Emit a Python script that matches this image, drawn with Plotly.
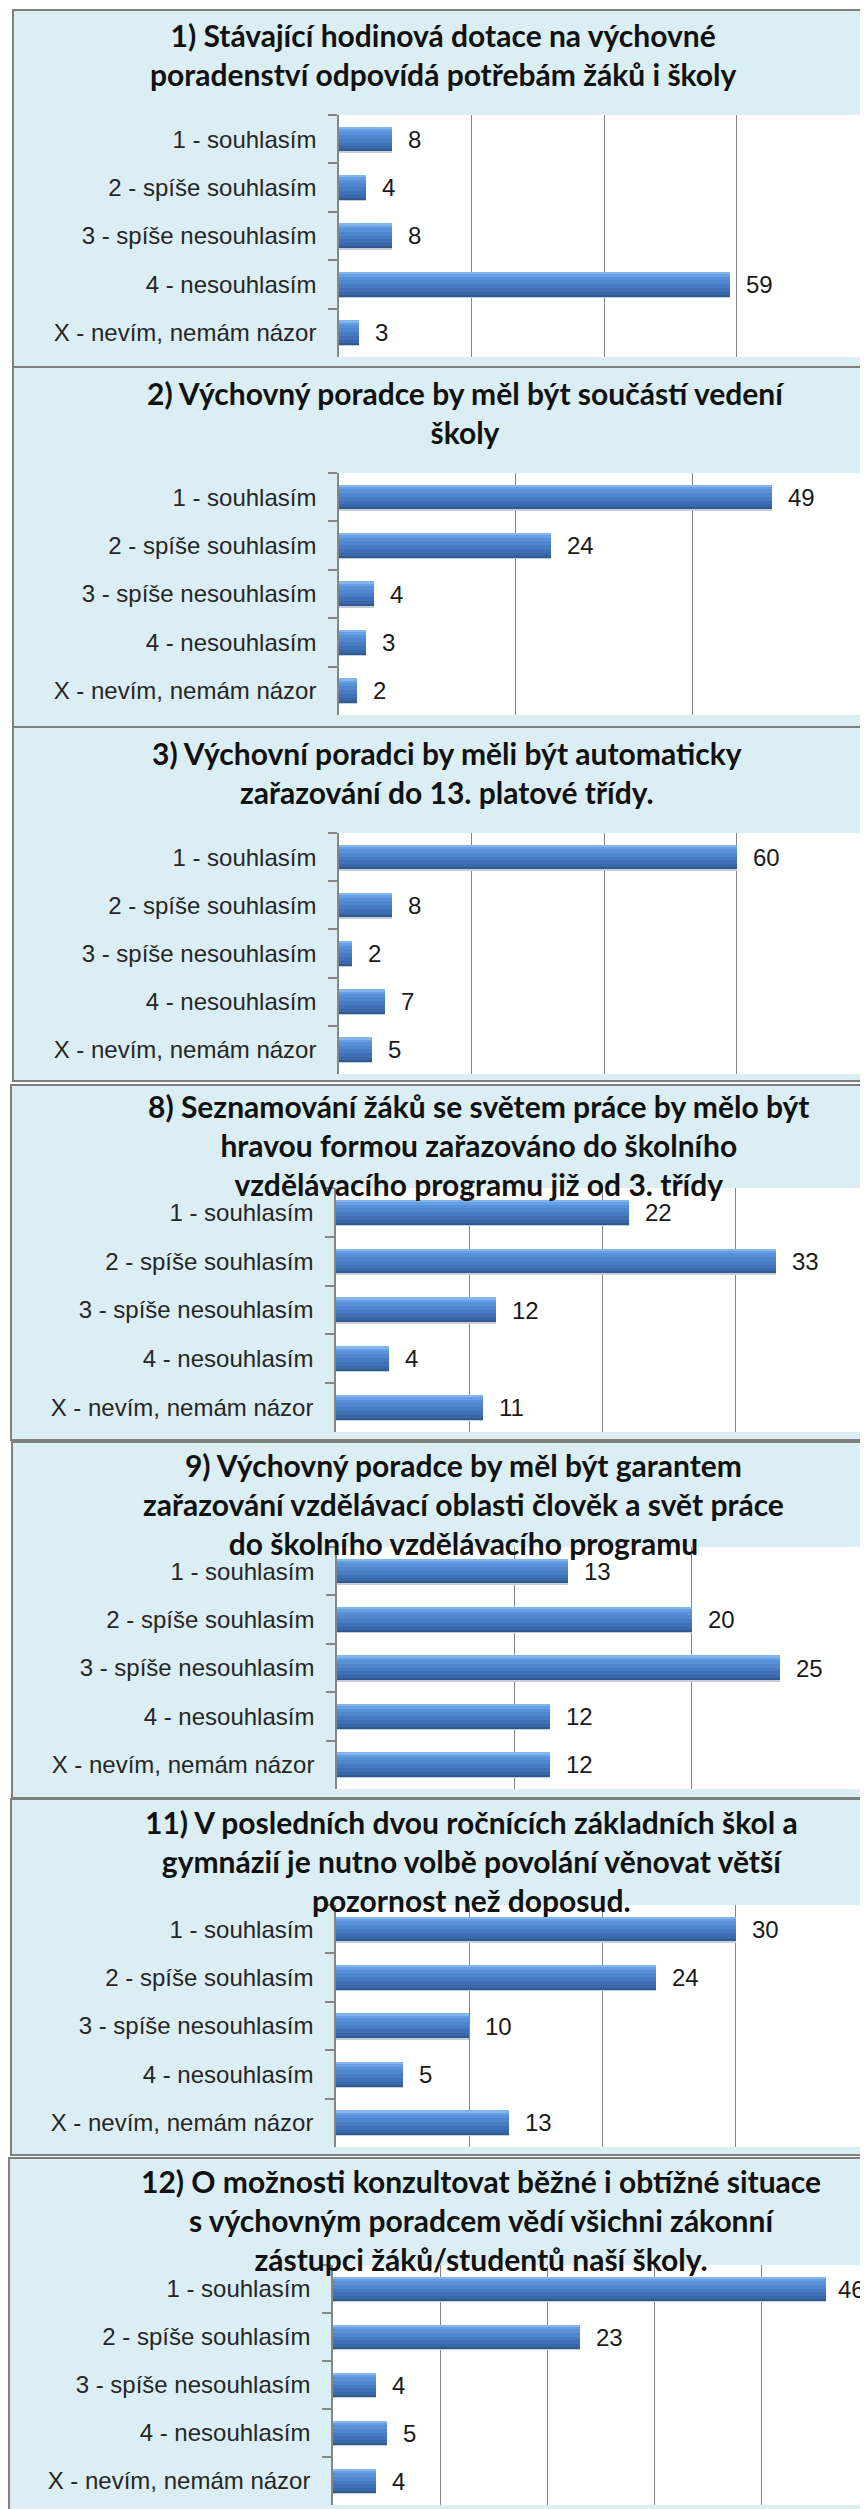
import plotly.graph_objects as go

# ---------------- data ----------------
categories = ["1 - souhlasím", "2 - spíše souhlasím", "3 - spíše nesouhlasím",
              "4 - nesouhlasím", "X - nevím, nemám názor"]

titles = [
    "1) Stávající hodinová dotace na výchovné<br>poradenství odpovídá potřebám žáků i školy",
    "2) Výchovný poradce by měl být součástí vedení<br>školy",
    "3) Výchovní poradci by měli být automaticky<br>zařazování do 13. platové třídy.",
    "8) Seznamování žáků se světem práce by mělo být<br>hravou formou zařazováno do školního<br>vzdělávacího programu již od 3. třídy",
    "9) Výchovný poradce by měl být garantem<br>zařazování vzdělávací oblasti člověk a svět práce<br>do školního vzdělávacího programu",
    "11) V posledních dvou ročnících základních škol a<br>gymnázií je nutno volbě povolání věnovat větší<br>pozornost než doposud.",
    "12) O možnosti konzultovat běžné i obtížné situace<br>s výchovným poradcem vědí všichni zákonní<br>zástupci žáků/studentů naší školy.",
]

q1 = [8, 4, 8, 59, 3]
q2 = [49, 24, 4, 3, 2]
q3 = [60, 8, 2, 7, 5]
q8 = [22, 33, 12, 4, 11]
q9 = [13, 20, 25, 12, 12]
q11 = [30, 24, 10, 5, 13]
q12 = [46, 23, 4, 5, 4]
series = [q1, q2, q3, q8, q9, q11, q12]

axis_max = [80, 60, 80, 40, 30, 40, 50]
axis_step = [20, 20, 20, 10, 10, 10, 10]

# ---------------- layout geometry (screen pixels of the page) ----------------
PAGE_W, PAGE_H = 868, 2509
BODY = 8                      # default page margin around the figure div
W, H = PAGE_W - BODY, PAGE_H - BODY

frame_top = [10, 367, 727, 1085, 1442, 1799, 2158]
frame_bottom = [367, 727, 1081, 1440, 1798, 2155, 2540]
frame_left = [13, 13, 13, 11, 12, 11, 9]
plot_left = [339, 339, 339, 336, 337, 336, 333]
plot_top = [115, 473, 833, 1188, 1547, 1905, 2265]
plot_bottom = [357, 715, 1074, 1432, 1789, 2147, 2505]
title_cy = [55, 412, 773, 1145, 1504, 1861, 2220]
title_cx = [443, 466, 447, 479, 464, 471, 481]
plot_right_at_max = 869       # page x where the axis maximum would fall

FRAME_FILL = "#DAEEF3"
FRAME_LINE = "#7F7F7F"
GRID = "#858585"
LABEL_FONT = "Liberation Sans"
TITLE_FONT = "Lato"
LABEL_SIZE = 24
VALUE_SIZE = 24
TITLE_SIZE = 30

# bar layers: (offset, width, color) in category units (axis reversed: negative = top)
bar_layers = [
    (-0.22, 0.50, "#C9CDD3"),   # soft shadow
    (-0.25, 0.50, "#2E5A96"),
    (-0.25, 0.46, "#3968A9"),
    (-0.25, 0.40, "#4071B6"),
    (-0.25, 0.32, "#477BC2"),
    (-0.25, 0.24, "#4F86CD"),
    (-0.25, 0.16, "#5891D8"),
    (-0.25, 0.09, "#669FE3"),
    (-0.25, 0.04, "#84B6EE"),
]

fig = go.Figure()
shapes = []
annotations = []
layout_axes = {}


def fx(p):
    return (p - BODY) / W


def fy(p):
    return 1 - (p - BODY) / H


for i, vals in enumerate(series):
    n = i + 1
    xa = "x" if n == 1 else f"x{n}"
    ya = "y" if n == 1 else f"y{n}"
    xkey = "xaxis" if n == 1 else f"xaxis{n}"
    ykey = "yaxis" if n == 1 else f"yaxis{n}"

    # panel frame
    shapes.append(dict(type="rect", xref="paper", yref="paper",
                       x0=fx(frame_left[i]), x1=1.05,
                       y0=fy(frame_bottom[i]), y1=fy(frame_top[i]),
                       fillcolor=FRAME_FILL, line=dict(color=FRAME_LINE, width=2),
                       layer="below"))
    # plot area background
    shapes.append(dict(type="rect", xref="paper", yref="paper",
                       x0=fx(plot_left[i]), x1=1.05,
                       y0=fy(plot_bottom[i]), y1=fy(plot_top[i]),
                       fillcolor="white", line=dict(width=0),
                       layer="below"))

    for off, wd, col in bar_layers:
        fig.add_trace(go.Bar(
            x=vals, y=categories, orientation="h",
            offset=off, width=wd,
            marker=dict(color=col, line=dict(width=0)),
            xaxis=xa, yaxis=ya, showlegend=False, hoverinfo="skip",
        ))

    px_per_unit = (plot_right_at_max - plot_left[i]) / axis_max[i]
    rng = (PAGE_W - plot_left[i]) / px_per_unit
    for c, v in zip(categories, vals):
        shift = 14
        est_w = len(str(v)) * VALUE_SIZE * 0.6
        end = plot_left[i] + v * px_per_unit + shift + est_w
        if end > PAGE_W - 3:
            shift -= (end - (PAGE_W - 3))
        annotations.append(dict(x=v, y=c, xref=xa, yref=ya, text=str(v),
                                showarrow=False, xanchor="left", yanchor="middle",
                                xshift=shift,
                                font=dict(family=LABEL_FONT, size=VALUE_SIZE, color="#1A1A1A")))

    annotations.append(dict(x=fx(title_cx[i]), y=fy(title_cy[i]),
                            xref="paper", yref="paper", text=titles[i],
                            showarrow=False, xanchor="center", yanchor="middle",
                            align="center",
                            font=dict(family=TITLE_FONT, size=TITLE_SIZE, color="#111111",
                                      weight="bold")))

    layout_axes[xkey] = dict(
        domain=[fx(plot_left[i]), 1.0], anchor=ya,
        range=[0, rng], tick0=0, dtick=axis_step[i],
        showgrid=True, gridcolor=GRID, gridwidth=1,
        zeroline=False, showticklabels=False, showline=False,
        fixedrange=True, automargin=False,
    )
    layout_axes[ykey] = dict(
        domain=[fy(plot_bottom[i]), fy(plot_top[i])], anchor=xa,
        type="category", categoryorder="array", categoryarray=categories,
        autorange="reversed", automargin=False,
        showline=True, linecolor="#868686", linewidth=1.5,
        ticks="outside", tickson="boundaries", ticklen=9, tickcolor="#868686",
        tickwidth=1.5, ticklabelstandoff=16,
        tickfont=dict(family=LABEL_FONT, size=LABEL_SIZE, color="#262626"),
        showgrid=False, zeroline=False, fixedrange=True,
    )

fig.update_layout(
    width=W, height=H,
    margin=dict(l=0, r=0, t=0, b=0, pad=0, autoexpand=False),
    paper_bgcolor="white", plot_bgcolor="white",
    barmode="overlay", bargap=0,
    shapes=shapes, annotations=annotations,
    showlegend=False,
    **layout_axes,
)

fig.write_html("out.html")
